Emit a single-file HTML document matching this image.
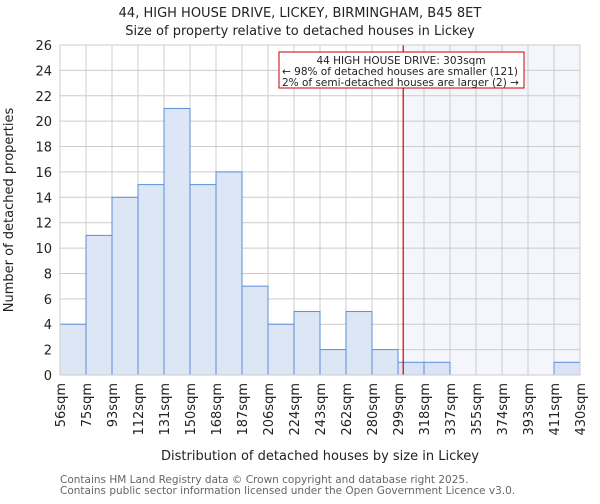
<!DOCTYPE html>
<html><head><meta charset="utf-8"><style>
body{margin:0;background:#fff;font-family:"DejaVu Sans","Liberation Sans",sans-serif}
</style></head><body>
<svg id="chart" width="600" height="500" xmlns="http://www.w3.org/2000/svg" font-family="DejaVu Sans, Liberation Sans, sans-serif">
<text x="300" y="17" text-anchor="middle" font-size="13" fill="#222">44, HIGH HOUSE DRIVE, LICKEY, BIRMINGHAM, B45 8ET</text>
<text x="300" y="35" text-anchor="middle" font-size="13" fill="#222">Size of property relative to detached houses in Lickey</text>
<g id="plot"></g>
<text x="320" y="460" text-anchor="middle" font-size="13" fill="#222">Distribution of detached houses by size in Lickey</text>
<text transform="translate(13,210) rotate(-90)" text-anchor="middle" font-size="13" fill="#222">Number of detached properties</text>
<text x="60" y="483" font-size="10.5" fill="#666">Contains HM Land Registry data © Crown copyright and database right 2025.</text>
<text x="60" y="494" font-size="10.5" fill="#666">Contains public sector information licensed under the Open Government Licence v3.0.</text>
</svg>
<script>
const binLabels=["56sqm","75sqm","93sqm","112sqm","131sqm","150sqm","168sqm","187sqm","206sqm","224sqm","243sqm","262sqm","280sqm","299sqm","318sqm","337sqm","355sqm","374sqm","393sqm","411sqm","430sqm"];
const counts=[4,11,14,15,21,15,16,7,4,5,2,5,2,1,1,0,0,0,0,1];
const yTicks=[0,2,4,6,8,10,12,14,16,18,20,22,24,26];
const propertyBinPos=13.2;
const NS="http://www.w3.org/2000/svg";
const L=60,R=580,T=45,B=375,yMax=26;
const bw=(R-L)/counts.length;
const x=i=>L+i*bw, y=v=>B-(v/yMax)*(B-T);
const g=document.getElementById('plot');
function mk(t,a){const e=document.createElementNS(NS,t);for(const k in a)e.setAttribute(k,a[k]);g.appendChild(e);return e;}
const px=x(propertyBinPos);
let e=mk('rect',{x:px,y:T,width:R-px,height:B-T,fill:'#f4f6fc'});


for(let i=0;i<=counts.length;i++){e=mk('line',{x1:x(i),x2:x(i),y1:T,y2:B,stroke:'#ccc'});

}
yTicks.forEach(v=>{e=mk('line',{x1:L,x2:R,y1:y(v),y2:y(v),stroke:'#ccc'});


e=mk('text',{x:L-8,y:y(v)+5,'text-anchor':'end','font-size':13,fill:'#222'});e.textContent=v;

});
counts.forEach((c,i)=>{if(c<=0)return;e=mk('rect',{x:x(i),y:y(c),width:bw,height:B-y(c),fill:i>=13?'rgba(200,215,240,0.6)':'#dde6f4',stroke:'#5b8fd6','stroke-width':1});

});
binLabels.forEach((s,i)=>{e=mk('text',{transform:`translate(${x(i)+5},${B+8}) rotate(-90)`,'text-anchor':'end','font-size':13,fill:'#222'});e.textContent=s;

});
e=mk('line',{x1:px,x2:px,y1:T,y2:B,stroke:'#cc0000','stroke-width':1.2});


e=mk('rect',{x:L,y:T,width:R-L,height:B-T,fill:'none',stroke:'#ccc'});


e=mk('rect',{x:279,y:52,width:245,height:36,fill:'#fff',stroke:'#cc0000'});


["44 HIGH HOUSE DRIVE: 303sqm","← 98% of detached houses are smaller (121)","2% of semi-detached houses are larger (2) →"].forEach((s,k)=>{
e=mk('text',{x:k==0?401:282,y:64+k*11,'text-anchor':k==0?'middle':'start','font-size':10.5,fill:'#222'});e.textContent=s;

});
</script>
</body></html>
